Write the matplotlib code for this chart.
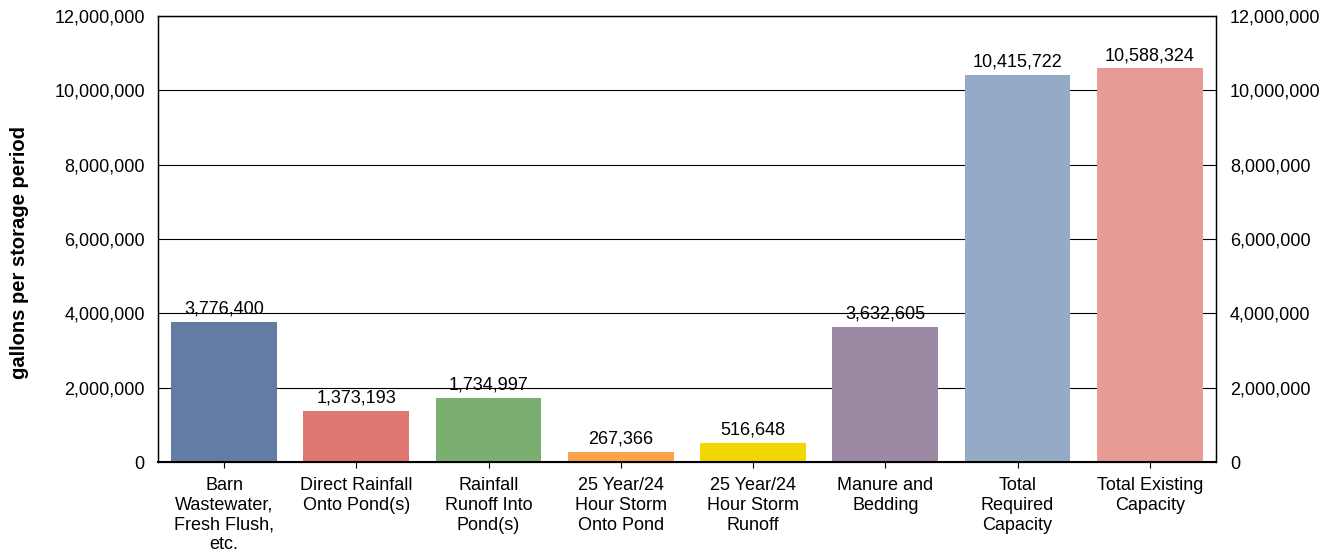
import matplotlib
matplotlib.use('Agg')
import matplotlib.pyplot as plt
from matplotlib import ticker

plt.rcParams['font.family'] = ['Liberation Sans', 'DejaVu Sans']

categories = ['Barn\nWastewater,\nFresh Flush,\netc.', 'Direct Rainfall\nOnto Pond(s)',
              'Rainfall\nRunoff Into\nPond(s)', '25 Year/24\nHour Storm\nOnto Pond',
              '25 Year/24\nHour Storm\nRunoff', 'Manure and\nBedding',
              'Total\nRequired\nCapacity', 'Total Existing\nCapacity']
values = [3776400, 1373193, 1734997, 267366, 516648, 3632605, 10415722, 10588324]
colors = ['#627CA3', '#E07872', '#7BAF6F', '#FBA348', '#F0D800', '#9C89A3', '#95AAC7', '#E69C94']

fig = plt.figure(figsize=(13.33, 5.58), dpi=100)
ax = fig.add_axes([0.1185, 0.172, 0.7937, 0.7993])

x = list(range(len(categories)))
ax.bar(x, values, width=0.8, color=colors, zorder=2)
ax.set_xlim(-0.5, len(categories) - 0.5)
ax.set_ylim(0, 12000000)
ax.yaxis.set_major_locator(ticker.MultipleLocator(2000000))
ax.yaxis.set_major_formatter(ticker.StrMethodFormatter('{x:,.0f}'))
ax.grid(axis='y', color='black', linewidth=0.8, zorder=1)
ax.set_xticks(x)
ax.set_xticklabels(categories, fontsize=13, linespacing=1.2)
ax.tick_params(axis='x', length=4, direction='out', pad=7)
ax.tick_params(axis='y', length=0, labelsize=13, pad=9.5)
for s in ax.spines.values():
    s.set_linewidth(1.0)
ax.spines['bottom'].set_linewidth(1.5)

for xi, v in zip(x, values):
    ax.text(xi, v + 120000, f'{v:,}', ha='center', va='bottom', fontsize=13)

ax.set_ylabel('gallons per storage period', fontsize=14.5, fontweight='bold', labelpad=18)
ax.yaxis.label.set_y(0.469)

ax2 = ax.twinx()
ax2.set_ylim(ax.get_ylim())
ax2.yaxis.set_major_locator(ticker.MultipleLocator(2000000))
ax2.yaxis.set_major_formatter(ticker.StrMethodFormatter('{x:,.0f}'))
ax2.tick_params(axis='y', length=0, labelsize=13, pad=10)

fig.savefig('out.png', dpi=100)
